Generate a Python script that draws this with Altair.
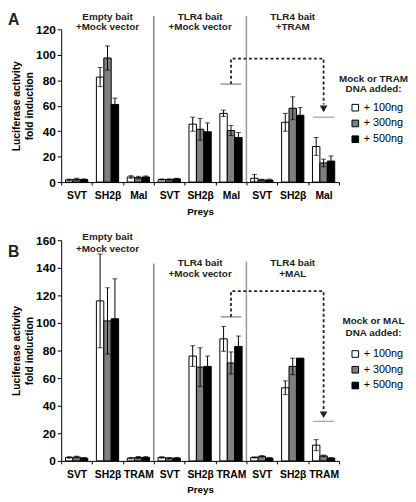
import altair as alt
import pandas as pd

# ---------------- data ----------------
sections = ["1", "2", "3"]
preys_a = ["SVT", "SH2β", "Mal"]
preys_b = ["SVT", "SH2β", "TRAM"]
doses = ["+ 100ng", "+ 300ng", "+ 500ng"]
dose_colors = ["white", "#7f7f7f", "black"]

# panel A: fold induction per group (white, gray, black) and error (+/-)
a_vals = [[1.8, 2.2, 2.0], [82.5, 97.5, 61.0], [4.0, 3.5, 4.0],
          [2.0, 2.0, 2.5], [45.5, 41.5, 39.5], [54.0, 40.5, 35.0],
          [3.0, 1.7, 1.6], [47.0, 58.0, 52.5], [28.0, 15.0, 16.5]]
a_errs = [[0.5, 0.8, 0.5], [7.5, 9.5, 5.0], [1.0, 1.0, 0.8],
          [0.5, 0.5, 0.5], [5.5, 8.5, 7.0], [2.5, 4.0, 4.0],
          [3.0, 0.5, 0.7], [7.0, 9.0, 6.0], [7.0, 3.0, 4.0]]

# panel B
b_vals = [[2.5, 2.8, 2.0], [116.0, 101.5, 103.0], [2.0, 2.5, 2.5],
          [2.5, 2.0, 2.0], [76.0, 68.0, 68.5], [88.5, 71.0, 83.0],
          [2.5, 3.3, 2.0], [53.0, 68.5, 74.5], [11.4, 3.6, 2.0]]
b_errs = [[0.5, 0.6, 0.5], [34.0, 24.0, 29.0], [0.5, 0.7, 0.6],
          [0.5, 0.5, 0.5], [7.5, 14.0, 7.5], [9.0, 8.0, 7.5],
          [0.4, 0.5, 0.4], [5.0, 6.0, None], [4.0, 0.6, 0.4]]

a_y_ticks = [0, 20, 40, 60, 80, 100, 120]
b_y_ticks = [0, 20, 40, 60, 80, 100, 120, 140, 160]

a_sec_line1 = ["Empty bait", "TLR4 bait", "TLR4 bait"]
a_sec_line2 = ["+Mock vector", "+Mock vector", "+TRAM"]
b_sec_line1 = ["Empty bait", "TLR4 bait", "TLR4 bait"]
b_sec_line2 = ["+Mock vector", "+Mock vector", "+MAL"]
a_sec_y1 = [129.8, 129.8, 129.8]
a_sec_y2 = [121.7, 121.7, 121.7]
b_sec_y1 = [162.0, 143.6, 143.6]
b_sec_y2 = [153.6, 135.8, 135.8]

a_sep_top = [130.5, 130.5]
b_sep_top = [143.0, 144.5]

# bracket: (level over source group, top level, arrow end, target level)
a_bracket = [77.0, 97.0, 61.0, 51.0]
a_arrow = 57.5
b_bracket = [104.4, 123.0, 37.0, 28.7]
b_arrow = 33.4

# ---------------- helpers ----------------
W = 282
FONT = "Liberation Sans"


def groups_for(preys):
    return [f"{p}|{s}" for s in sections for p in preys]


def panel(preys, vals, errs, ymax, yticks, height, sec1, sec2, sy1, sy2,
          sep_top, bracket, arrow_y, letter, letter_y, leg_title, leg_title_y,
          legend_y):
    groups = groups_for(preys)
    rows = []
    for g, vv, ee in zip(groups, vals, errs):
        for d, v, e in zip(doses, vv, ee):
            rows.append({"g": g, "dose": d, "v": v,
                         "lo": None if e is None else v - e,
                         "hi": None if e is None else v + e})
    df = pd.DataFrame(rows)
    dfe = df.dropna(subset=["lo"])

    xscale = alt.Scale(domain=groups, paddingInner=0, paddingOuter=0)
    xaxis = alt.Axis(labelExpr="isValid(datum.value) ? split(datum.value, '|')[0] : ''",
                     labelAngle=0,
                     tickBand="extent", tickSize=3, labelPadding=6,
                     labelFontSize=10.5, labelFontWeight="bold",
                     titleFontSize=10, titleFontWeight="bold", titlePadding=5,
                     labelOverlap=False)
    yscale = alt.Scale(domain=[0, ymax], nice=False)
    yaxis = alt.Axis(values=yticks, tickSize=4, labelPadding=2,
                     labelFontSize=12, labelFontWeight="bold",
                     titleFontSize=10.5, titleFontWeight="bold",
                     titleLineHeight=13.5, titlePadding=1)
    ytitle = ["Luciferase activity", "fold induction"]

    def X(**kw):
        return alt.X("g:N", scale=xscale, axis=xaxis, title="Preys", **kw)

    def Y(field="v"):
        return alt.Y(f"{field}:Q", scale=yscale, axis=yaxis, title=ytitle)

    xoff = alt.XOffset("dose:N", scale=alt.Scale(domain=doses, paddingInner=0,
                                                 paddingOuter=0.58))

    bars = alt.Chart(df).mark_bar(stroke="black", strokeWidth=1).encode(
        x=X(), xOffset=xoff, y=Y(),
        fill=alt.Fill("dose:N", scale=alt.Scale(domain=doses, range=dose_colors),
                      legend=alt.Legend(orient="none", legendX=W + 11,
                                        legendY=legend_y, title=None,
                                        symbolType="square", symbolSize=45,
                                        symbolStrokeColor="black",
                                        symbolStrokeWidth=1, labelFont=FONT,
                                        labelFontSize=11, labelOffset=3,
                                        rowPadding=4, padding=0)))
    err = alt.Chart(dfe).mark_rule(color="black", strokeWidth=1).encode(
        x=X(), xOffset=xoff, y=Y("lo"), y2="hi:Q")
    cap_hi = alt.Chart(dfe).mark_tick(color="black", size=5, thickness=1,
                                      orient="horizontal").encode(
        x=X(), xOffset=xoff, y=Y("hi"))
    cap_lo = alt.Chart(dfe).mark_tick(color="black", size=5, thickness=1,
                                      orient="horizontal").encode(
        x=X(), xOffset=xoff, y=Y("lo"))

    # section separators
    sep_groups = [f"{preys[0]}|2", f"{preys[0]}|3"]
    sep1 = alt.Chart(pd.DataFrame({"g": [sep_groups[0]], "t": [sep_top[0]],
                                   "b": [0]})).mark_rule(
        color="#444", strokeWidth=1).encode(x=X(bandPosition=0), y=Y("t"), y2="b:Q")
    sep2 = alt.Chart(pd.DataFrame({"g": [sep_groups[1]], "t": [sep_top[1]],
                                   "b": [0]})).mark_rule(
        color="#999", strokeWidth=1.5).encode(x=X(bandPosition=0), y=Y("t"), y2="b:Q")

    # section titles
    mids = [f"{preys[1]}|{s}" for s in sections]
    tdf = pd.DataFrame({"g": mids * 2, "t": sec1 + sec2, "y": sy1 + sy2})
    titles = alt.Chart(tdf).mark_text(font=FONT, fontSize=10, fontWeight="bold",
                                      baseline="middle", color="#222").encode(
        x=X(), y=Y("y"), text="t:N")

    # dashed bracket
    src = f"{preys[2]}|2"
    dst = f"{preys[2]}|3"
    pdf = pd.DataFrame({"g": [src, src, dst, dst],
                        "y": [bracket[0], bracket[1], bracket[1], bracket[2]],
                        "o": [0, 1, 2, 3]})
    path = alt.Chart(pdf).mark_line(color="#222", strokeWidth=1.8,
                                    strokeDash=[3, 2.5]).encode(
        x=X(), y=Y("y"), order="o:Q")
    tick_src = alt.Chart(pd.DataFrame({"g": [src], "y": [bracket[0]]})).mark_tick(
        color="#444", size=21, thickness=1.2, orient="horizontal").encode(x=X(), y=Y("y"))
    tick_dst = alt.Chart(pd.DataFrame({"g": [dst], "y": [bracket[3]]})).mark_tick(
        color="#777", size=22, thickness=1.2, orient="horizontal").encode(x=X(), y=Y("y"))
    arrow = alt.Chart(pd.DataFrame({"g": [dst], "y": [arrow_y]})).mark_point(
        shape="triangle-down", filled=True, size=60, color="#222", opacity=1).encode(
        x=X(), y=Y("y"))

    # panel letter and legend title
    let = alt.Chart(pd.DataFrame({"t": [letter]})).mark_text(
        font=FONT, fontSize=16, fontWeight="bold", align="left", baseline="top",
        color="#222").encode(x=alt.value(-54), y=alt.value(letter_y), text="t:N")
    lt1 = alt.Chart(pd.DataFrame({"t": [leg_title[0]]})).mark_text(
        font=FONT, fontSize=10, fontWeight="bold", align="center",
        baseline="middle", color="#222").encode(
        x=alt.value(W + 35), y=alt.value(leg_title_y[0]), text="t:N")
    lt2 = alt.Chart(pd.DataFrame({"t": [leg_title[1]]})).mark_text(
        font=FONT, fontSize=10, fontWeight="bold", align="center",
        baseline="middle", color="#222").encode(
        x=alt.value(W + 35), y=alt.value(leg_title_y[1]), text="t:N")

    return alt.layer(sep1, sep2, bars, err, cap_hi, cap_lo, titles, path,
                     tick_src, tick_dst, arrow, let, lt1, lt2).properties(
        width=W, height=height)


pa = panel(preys_a, a_vals, a_errs, 120, a_y_ticks, 155, a_sec_line1, a_sec_line2,
           a_sec_y1, a_sec_y2, a_sep_top, a_bracket, a_arrow, "A", -17,
           ["Mock or TRAM", "DNA added:"], [50, 61], 74)
pb = panel(preys_b, b_vals, b_errs, 160, b_y_ticks, 224, b_sec_line1, b_sec_line2,
           b_sec_y1, b_sec_y2, b_sep_top, b_bracket, b_arrow, "B", 4,
           ["Mock or MAL", "DNA added:"], [82, 94], 110)

chart = alt.vconcat(pa, pb, spacing=16).resolve_legend(fill="independent").properties(
    padding=0
).configure_view(stroke=None).configure_axis(
    grid=False, domainColor="black", tickColor="black", labelColor="black",
    titleColor="black", labelFont=FONT, titleFont=FONT
)

chart.save("out.html", embed_options={"renderer": "svg", "actions": False})
